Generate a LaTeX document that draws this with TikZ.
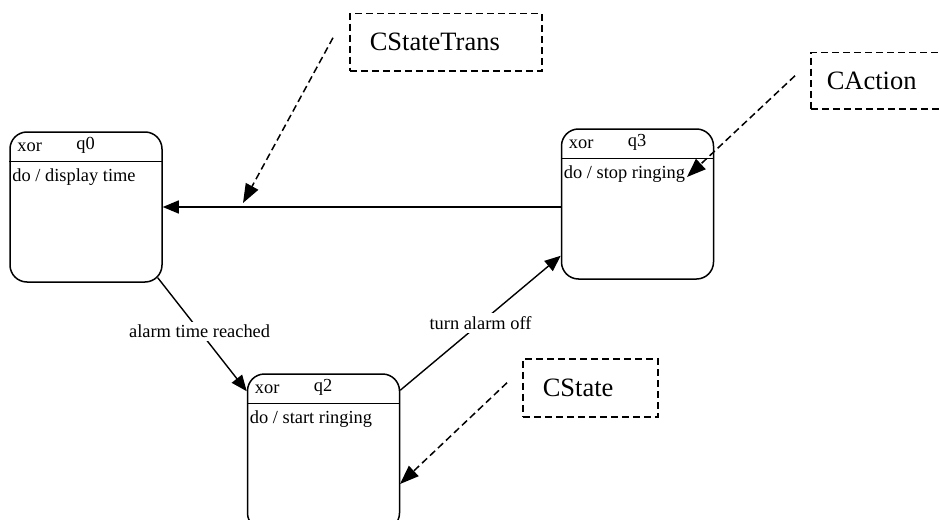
\documentclass[tikz,border=0pt]{standalone}
\usepackage{fontspec}
\setmainfont{Liberation Serif}
\usetikzlibrary{arrows.meta,calc}

% one state: rounded box with a header (xor + name) and an action line
\newcommand\mkstate[5][]{%
  \node[statebox,#1] (#2) at (#3) {};
  \draw[divider] ($(#2.north west)+(0,30)$) -- ($(#2.north east)+(0,30)$);
  \node[txt, anchor=base west] (#2x) at ($(#2.north west)+(8,20)$) {xor};
  \node[txt, anchor=base west] (#2n) at ($(#2.north west)+(67,18)$) {#4};
  \node[txt, anchor=base west] (#2a) at ($(#2.north west)+(3,50)$) {#5};
}

\begin{document}
\begin{tikzpicture}[x=1pt,y=-1pt,
  statebox/.style={draw, line width=1.5pt, rounded corners=17pt,
    minimum width=152pt, minimum height=150pt, inner sep=0pt},
  divider/.style={line width=1.4pt},
  txt/.style={inner sep=0pt, font=\fontsize{18.4}{22}\selectfont},
  conn/.style={line width=1.4pt, -{Triangle[length=16pt,width=13pt]}},
  edgelbl/.style={fill=white, inner sep=3pt, font=\fontsize{18.4}{22}\selectfont},
  callout/.style={draw, line width=1.5pt, dash pattern=on 7pt off 4pt,
    anchor=north west, align=left, inner ysep=0pt,
    font=\fontsize{26.5}{30}\selectfont},
  pointer/.style={line width=1.5pt, dash pattern=on 7pt off 4pt,
    -{Triangle[length=19pt,width=14pt]}}
]
\useasboundingbox (0,0) rectangle (939,519);

% states
\mkstate{q0}{86,207}{q0}{do / display time}
\mkstate{q3}{637.5,204}{q3}{do / stop ringing}
\mkstate[minimum height=156pt]{q2}{323.5,452}{q2}{do / start ringing}

% transitions
\draw[conn] (q3.west |- q0.east) -- (q0.east);
\draw[conn] ($(q0.south east)+(-5,-5)$)
  -- node[edgelbl, pos=0.47] {alarm time reached} ($(q2.north west)+(0,18)$);
\draw[conn] ($(q2.north east)+(0,17)$)
  -- node[edgelbl] {turn alarm off} ($(q3.south west)+(0,-24)$);

% class annotations
\node[callout, inner xsep=20pt, text width=152pt, minimum height=57pt] (cst) at (349,13) {CStateTrans};
\node[callout, inner xsep=16pt, text width=119pt, minimum height=56pt] (cac) at (810,52) {CAction};
\node[callout, inner xsep=20pt, text width=95pt, minimum height=58pt] (cs) at (522,358) {CState};

\coordinate (tipT) at (243,203);
\coordinate (tipA) at (687,177);
\coordinate (tipS) at (400,484);
\draw[pointer] ($(cst.west)+(-16,-4.5)$) -- (tipT);
\draw[pointer] ($(cac.west)+(-15,-5)$) -- (tipA);
\draw[pointer] ($(cs.west)+(-15,-5)$) -- (tipS);
\end{tikzpicture}
\end{document}
